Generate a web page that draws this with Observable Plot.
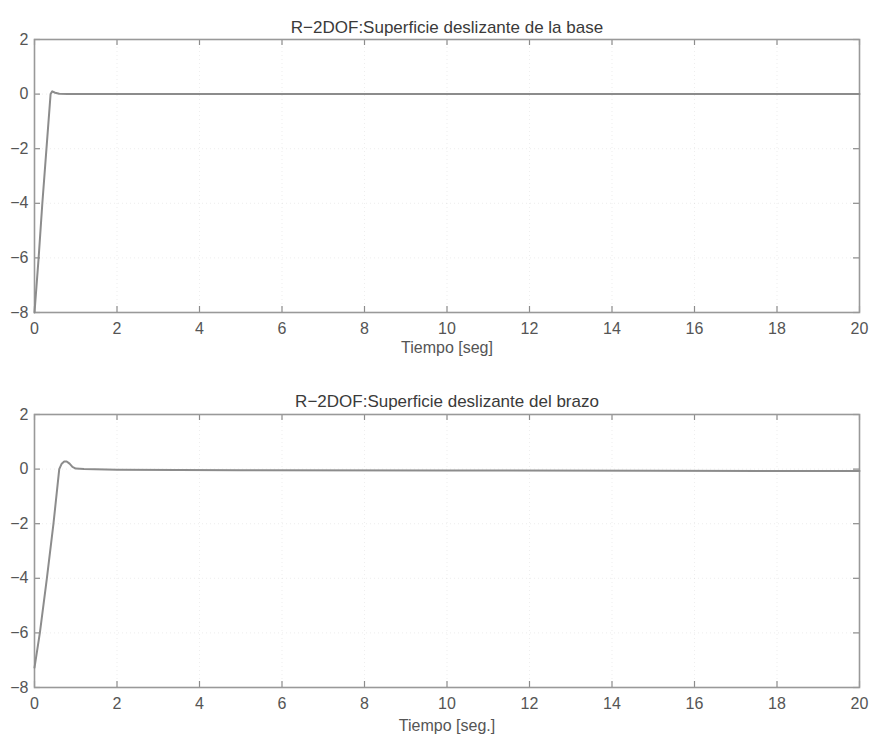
<!DOCTYPE html>
<html>
<head>
<meta charset="utf-8">
<script src="https://cdn.jsdelivr.net/npm/d3@7"></script>
<script src="https://cdn.jsdelivr.net/npm/@observablehq/plot@0.6"></script>
<style>
  html, body { margin: 0; padding: 0; background: #fff; }
  #chart { width: 872px; }
  #chart svg { display: block; }
</style>
</head>
<body>
<div id="chart"></div>
<script>
// ---- Data ----
const titleBase = "R−2DOF:Superficie deslizante de la base";
const titleBrazo = "R−2DOF:Superficie deslizante del brazo";
const xLabelBase = "Tiempo [seg]";
const xLabelBrazo = "Tiempo [seg.]";

const xTicks = [0, 2, 4, 6, 8, 10, 12, 14, 16, 18, 20];
const yTicks = [2, 0, -2, -4, -6, -8];

// Base sliding surface
const tBase = [0, 0.1, 0.19, 0.29, 0.39, 0.43, 0.5, 0.6, 0.8, 1, 2, 5, 10, 15, 20];
const sBase = [-8, -6, -4, -2, 0, 0.1, 0.05, 0.01, 0, 0, 0, 0, 0, 0, 0];

// Arm sliding surface
const tBrazo = [0, 0.13, 0.3, 0.46, 0.6, 0.66, 0.72, 0.78, 0.85, 0.92, 1.0, 1.2, 2, 5, 10, 15, 20];
const sBrazo = [-7.27, -6, -4, -2, 0, 0.2, 0.28, 0.28, 0.2, 0.08, 0.02, 0, -0.02, -0.04, -0.05, -0.06, -0.07];

// ---- Drawing ----
const W = 872, H = 371, mL = 34, mR = 13;
const gray = "#8c8c8c";

function panel(t, s, title, xlabel, mT, mB, titleDy, labelDy) {
  const data = t.map((x, i) => ({t: x, s: s[i]}));
  const fh = H - mT - mB, fw = W - mL - mR;
  return Plot.plot({
    width: W, height: H,
    marginLeft: mL, marginRight: mR, marginTop: mT, marginBottom: mB,
    style: {fontFamily: "'Liberation Sans', Arial, sans-serif", fontSize: "16px", color: "#555", background: "#fff"},
    x: {domain: [0, 20], ticks: xTicks},
    y: {domain: [-8, 2], ticks: yTicks},
    marks: [
      Plot.gridX(xTicks, {stroke: "#bbb", strokeOpacity: 0.25, strokeDasharray: "1,3"}),
      Plot.gridY(yTicks, {stroke: "#bbb", strokeOpacity: 0.25, strokeDasharray: "1,3"}),
      Plot.ruleX(xTicks, {x: d => d, insetTop: fh - 6, stroke: gray, strokeWidth: 1.2}),
      Plot.ruleX(xTicks, {x: d => d, insetBottom: fh - 6, stroke: gray, strokeWidth: 1.2}),
      Plot.ruleY(yTicks, {y: d => d, insetRight: fw - 6, stroke: gray, strokeWidth: 1.2}),
      Plot.ruleY(yTicks, {y: d => d, insetLeft: fw - 6, stroke: gray, strokeWidth: 1.2}),
      Plot.axisX(xTicks, {tickSize: 0, tickPadding: 10, label: null, tickFormat: d => String(d), fontSize: 16}),
      Plot.axisY(yTicks, {tickSize: 0, tickPadding: 6, label: null, fontSize: 16}),
      Plot.frame({stroke: "#999", strokeWidth: 1.6}),
      Plot.line(data, {x: "t", y: "s", stroke: gray, strokeWidth: 2}),
      Plot.text([title], {text: d => d, frameAnchor: "top", dy: titleDy, fill: "#3a3a3a", fontSize: 17}),
      Plot.text([xlabel], {text: d => d, frameAnchor: "bottom", dy: labelDy, fill: "#555", fontSize: 16})
    ]
  });
}

const chart = document.getElementById("chart");
chart.append(panel(tBase, sBase, titleBase, xLabelBase, 39, 59, -19, 40));
chart.append(panel(tBrazo, sBrazo, titleBrazo, xLabelBrazo, 43, 55, -20, 43));
</script>
</body>
</html>
